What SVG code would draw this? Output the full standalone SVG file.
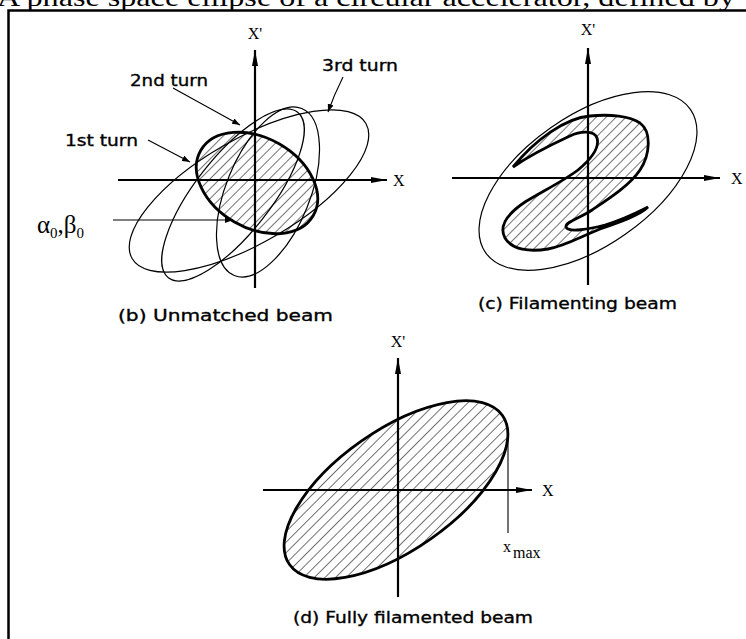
<svg xmlns="http://www.w3.org/2000/svg" width="746" height="639" viewBox="0 0 746 639">
<defs>
<style>
.ax{stroke:#000;stroke-width:2.2;fill:none}
.el{stroke:#000;stroke-width:1.2;fill:none}
.hatch{stroke:#000;stroke-width:2.8}
.lead{stroke:#000;stroke-width:1.1;fill:none}
.lbl{font-family:"DejaVu Sans",sans-serif;font-size:16px;fill:#000;stroke:#000;stroke-width:0.35}
.tm{font-family:"Liberation Serif",serif;fill:#000}
</style>
<pattern id="hpB" patternUnits="userSpaceOnUse" width="7" height="7" patternTransform="rotate(15)">
<line x1="0" y1="0" x2="0" y2="7" stroke="#000" stroke-width="1.1"/>
</pattern>
<pattern id="hpC" patternUnits="userSpaceOnUse" width="7" height="7" patternTransform="rotate(45)">
<line x1="0" y1="0" x2="0" y2="7" stroke="#000" stroke-width="1.1"/>
</pattern>
<pattern id="hpD" patternUnits="userSpaceOnUse" width="7.5" height="7.5" patternTransform="rotate(80)">
<line x1="0" y1="0" x2="0" y2="7.5" stroke="#000" stroke-width="1.1"/>
</pattern>
<marker id="ah" viewBox="0 0 16 8" refX="16" refY="4" markerWidth="16" markerHeight="8" markerUnits="userSpaceOnUse" orient="auto">
<path d="M0,1 L16,4 L0,7 Z" fill="#000"/>
</marker>
<marker id="sh" viewBox="0 0 8 6" refX="8" refY="3" markerWidth="8" markerHeight="6" markerUnits="userSpaceOnUse" orient="auto">
<path d="M0,0 L8,3 L0,6 Z" fill="#000"/>
</marker>
</defs>
<rect width="746" height="639" fill="#fff"/>
<text class="tm" x="-3" y="6" font-size="26" textLength="738" lengthAdjust="spacingAndGlyphs">A phase space ellipse of a circular accelerator, defined by</text>
<path d="M8.5,639 V10.5 H746" stroke="#000" stroke-width="2.5" fill="none"/>

<g id="panel-b">
<ellipse class="el" cx="249" cy="191" rx="135" ry="52" transform="rotate(-30 249 191)"/>
<ellipse class="el" cx="233" cy="195" rx="105" ry="38" transform="rotate(-52 233 195)"/>
<ellipse class="el" cx="268" cy="192" rx="90" ry="42" transform="rotate(-68 268 192)"/>
<ellipse class="hatch" fill="url(#hpB)" cx="257" cy="183" rx="65" ry="45" transform="rotate(30 257 183)"/>
<line class="ax" x1="118" y1="180" x2="387" y2="180" marker-end="url(#ah)"/>
<line class="ax" x1="255" y1="288" x2="255" y2="50" marker-end="url(#ah)"/>
<text class="tm" x="255" y="39" font-size="16" text-anchor="middle">X'</text>
<text class="tm" x="393" y="186" font-size="16">X</text>
<text class="lbl" x="322" y="71" textLength="76" lengthAdjust="spacingAndGlyphs">3rd turn</text>
<text class="lbl" x="130" y="86" textLength="78" lengthAdjust="spacingAndGlyphs">2nd turn</text>
<text class="lbl" x="65" y="146" textLength="73" lengthAdjust="spacingAndGlyphs">1st turn</text>
<text class="tm" x="37" y="233" font-size="25">α<tspan font-size="15" dy="5">0</tspan><tspan dy="-5">,β</tspan><tspan font-size="15" dy="5">0</tspan></text>
<text class="lbl" x="118" y="321" textLength="215" lengthAdjust="spacingAndGlyphs">(b) Unmatched beam</text>
</g>

<g id="panel-c">
<ellipse class="el" cx="588" cy="181" rx="125" ry="65" transform="rotate(-35 588 181)"/>
<path class="hatch" fill="url(#hpC)" d="M513,167 C535,140 565,118 590,116 C610,114 630,116 640,123 C652,132 650,155 640,170 C630,185 610,198 592,210 C580,218 565,222 566,227 C568,233 590,229 605,225 C625,219 640,211 648,207 C640,215 620,222 600,229 C580,237 565,246 548,249 C530,252 512,250 505,238 C498,225 510,212 525,202 C545,190 565,180 578,170 C590,160 600,148 597,138 C594,130 580,131 570,136 C555,143 535,152 513,167 Z"/>
<line class="ax" x1="452" y1="178" x2="720" y2="178" marker-end="url(#ah)"/>
<line class="ax" x1="588" y1="285" x2="588" y2="48" marker-end="url(#ah)"/>
<text class="tm" x="588" y="35" font-size="16" text-anchor="middle">X'</text>
<text class="tm" x="731" y="184" font-size="16">X</text>
<text class="lbl" x="478" y="309" textLength="199" lengthAdjust="spacingAndGlyphs">(c) Filamenting beam</text>
</g>

<g id="panel-d">
<ellipse class="hatch" fill="url(#hpD)" cx="396" cy="490" rx="130" ry="60" transform="rotate(-35 396 490)"/>
<line class="ax" x1="263" y1="490" x2="532" y2="490" marker-end="url(#ah)"/>
<line class="ax" x1="398" y1="597" x2="398" y2="358" marker-end="url(#ah)"/>
<line class="lead" x1="508" y1="430" x2="508" y2="533"/>
<text class="tm" x="398" y="347" font-size="16" text-anchor="middle">X'</text>
<text class="tm" x="542" y="496" font-size="16">X</text>
<text class="tm" x="503" y="552" font-size="16">x<tspan dy="6" dx="2">max</tspan></text>
<text class="lbl" x="293" y="623" textLength="240" lengthAdjust="spacingAndGlyphs">(d) Fully filamented beam</text>
</g>

<g id="connectors">
<path class="lead" d="M343,77 Q334,95 328,112" marker-end="url(#sh)"/>
<path class="lead" d="M173,88 L240,125" marker-end="url(#sh)"/>
<path class="lead" d="M148,140 L190,162" marker-end="url(#sh)"/>
<line class="lead" x1="113" y1="220" x2="233" y2="220" marker-end="url(#sh)"/>
</g>
</svg>
